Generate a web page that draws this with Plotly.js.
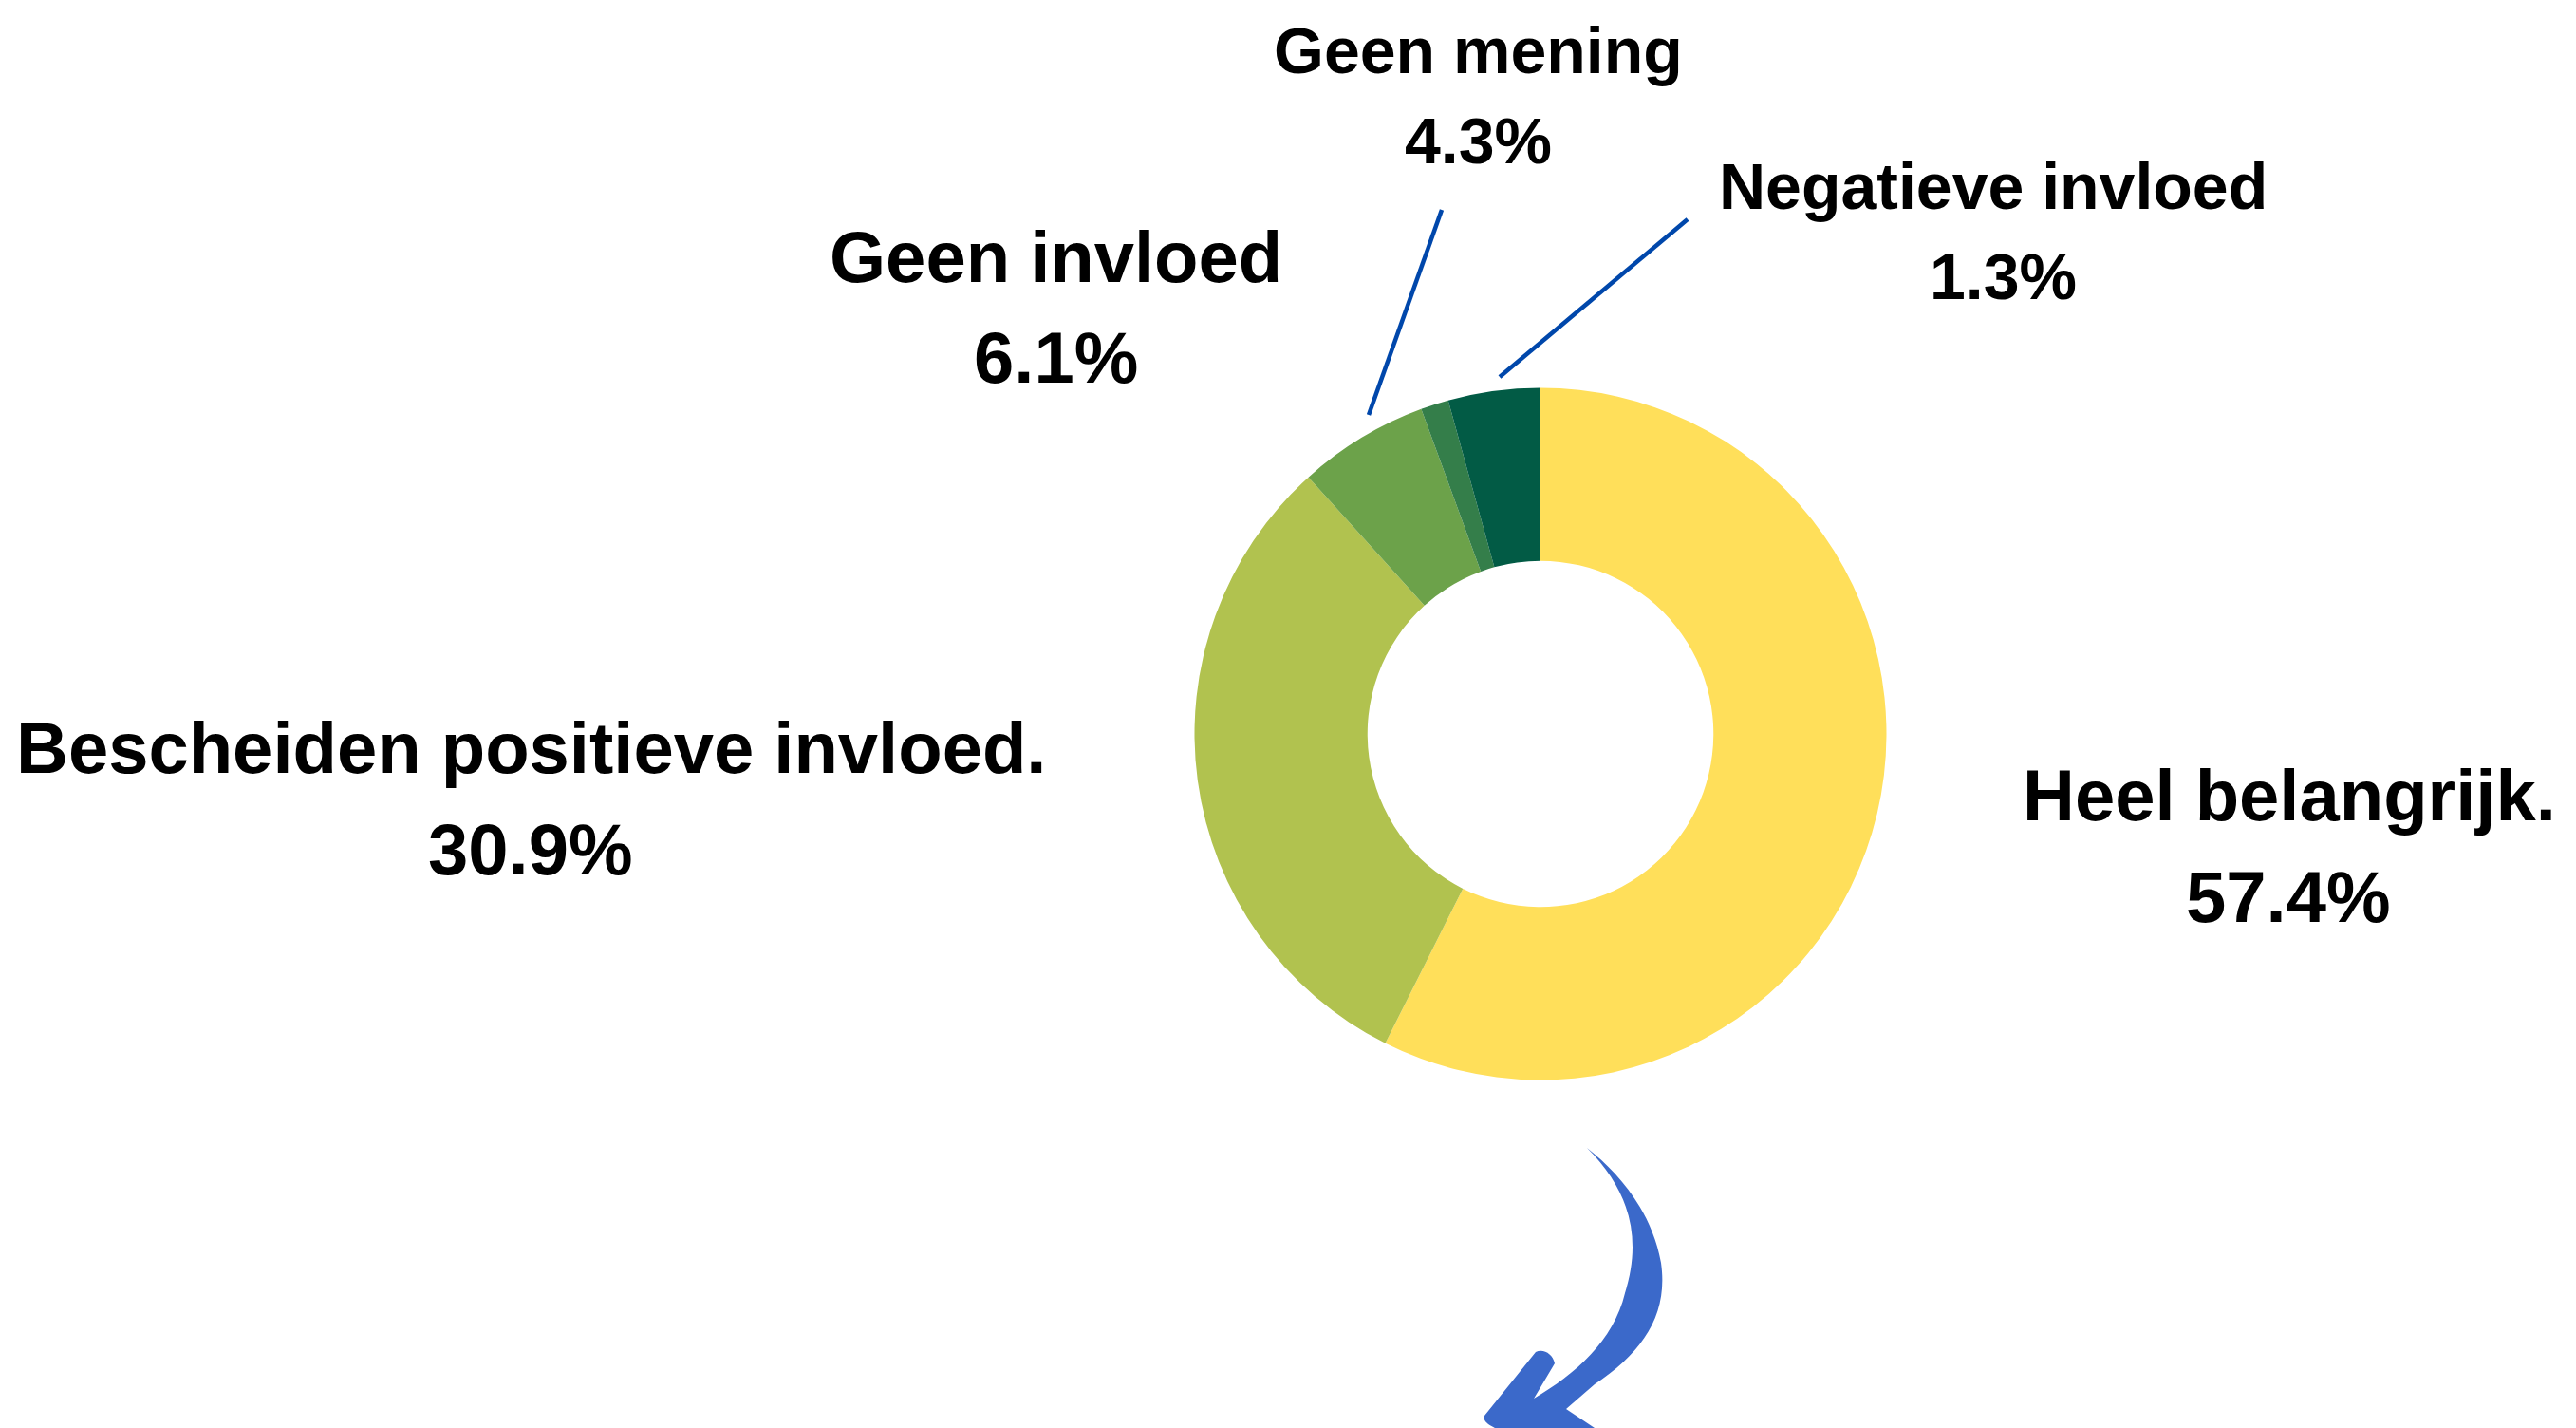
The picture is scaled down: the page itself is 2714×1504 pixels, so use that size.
<!DOCTYPE html>
<html>
<head>
<meta charset="utf-8">
<script src="https://cdn.plot.ly/plotly-3.0.1.min.js"></script>
<style>
html,body{margin:0;padding:0;background:#fff;}
#chart{width:2714px;height:1504px;}
</style>
</head>
<body>
<div id="chart"></div>
<script>
// ---- data ----
const categories = ["Heel belangrijk.", "Bescheiden positieve invloed.", "Geen invloed", "Negatieve invloed", "Geen mening"];
const percentages = [57.4, 30.9, 6.1, 1.3, 4.3];
const sliceColors = ["#FFDF5A", "#B1C24F", "#6CA24A", "#347E4A", "#025B45"];

// ---- layout helpers (pixel -> paper) ----
const W = 2714, H = 1504;
const px = x => x / W;
const py = y => 1 - y / H;

// label positions (pixels, centre of each text line) and sizes
const labelPos = [
  {nx: 2412, ny: 837, vx: 2411, vy: 944, size: 76},
  {nx: 559,  ny: 787, vx: 559,  vy: 894, size: 76},
  {nx: 1112, ny: 270, vx: 1112, vy: 376, size: 76},
  {nx: 2100, ny: 196, vx: 2110, vy: 291, size: 68},
  {nx: 1557, ny: 53,  vx: 1557, vy: 148, size: 68}
];

const cx = 1623, cy = 773, R = 364.5;

const trace = {
  type: 'pie',
  labels: categories,
  values: percentages,
  hole: 0.5,
  sort: false,
  direction: 'clockwise',
  rotation: 0,
  textinfo: 'none',
  hoverinfo: 'label+percent',
  marker: {colors: sliceColors, line: {width: 0}},
  domain: {x: [px(cx - R), px(cx + R)], y: [py(cy + R), py(cy - R)]},
  showlegend: false
};

const annotations = [];
categories.forEach((c, i) => {
  const p = labelPos[i];
  const f = {family: '"Liberation Sans", Arial, sans-serif', size: p.size, color: '#000000', weight: 700};
  annotations.push({xref: 'paper', yref: 'paper', x: px(p.nx), y: py(p.ny), xanchor: 'center', yanchor: 'middle',
    text: c, showarrow: false, font: f});
  annotations.push({xref: 'paper', yref: 'paper', x: px(p.vx), y: py(p.vy), xanchor: 'center', yanchor: 'middle',
    text: percentages[i].toFixed(1) + '%', showarrow: false, font: f});
});

// connector lines
const lineStyle = {color: '#0047AB', width: 4.5};
const shapes = [
  {type: 'line', xref: 'paper', yref: 'paper', x0: px(1519), y0: py(221), x1: px(1442), y1: py(437), line: lineStyle},
  {type: 'line', xref: 'paper', yref: 'paper', x0: px(1778), y0: py(231), x1: px(1580), y1: py(397), line: lineStyle}
];

// decorative curved arrow (pixel path converted to paper)
const arrowPts = [
  ['M', 1672, 1209],
  ['C', 1705, 1235, 1740, 1275, 1750, 1330],
  ['C', 1758, 1385, 1730, 1425, 1680, 1458],
  ['L', 1650, 1484],
  ['L', 1680, 1504],
  ['L', 1575, 1504],
  ['C', 1566, 1500, 1562, 1495, 1564, 1491],
  ['L', 1618, 1424],
  ['C', 1626, 1420, 1636, 1426, 1638, 1436],
  ['L', 1616, 1473],
  ['C', 1660, 1447, 1700, 1412, 1712, 1362],
  ['C', 1730, 1305, 1718, 1255, 1672, 1209],
  ['Z']
];
const arrowPath = arrowPts.map(s => {
  if (s[0] === 'Z') return 'Z';
  const out = [s[0]];
  for (let k = 1; k < s.length; k += 2) out.push(px(s[k]) + ',' + py(s[k + 1]));
  return out.join(' ');
}).join(' ');
shapes.push({type: 'path', xref: 'paper', yref: 'paper', path: arrowPath,
  fillcolor: '#3B69CA', line: {width: 0}});

const layout = {
  width: W, height: H,
  margin: {l: 0, r: 0, t: 0, b: 0, pad: 0},
  paper_bgcolor: '#ffffff',
  plot_bgcolor: '#ffffff',
  showlegend: false,
  annotations: annotations,
  shapes: shapes
};

Plotly.newPlot('chart', [trace], layout, {displayModeBar: false, staticPlot: true});
</script>
</body>
</html>
